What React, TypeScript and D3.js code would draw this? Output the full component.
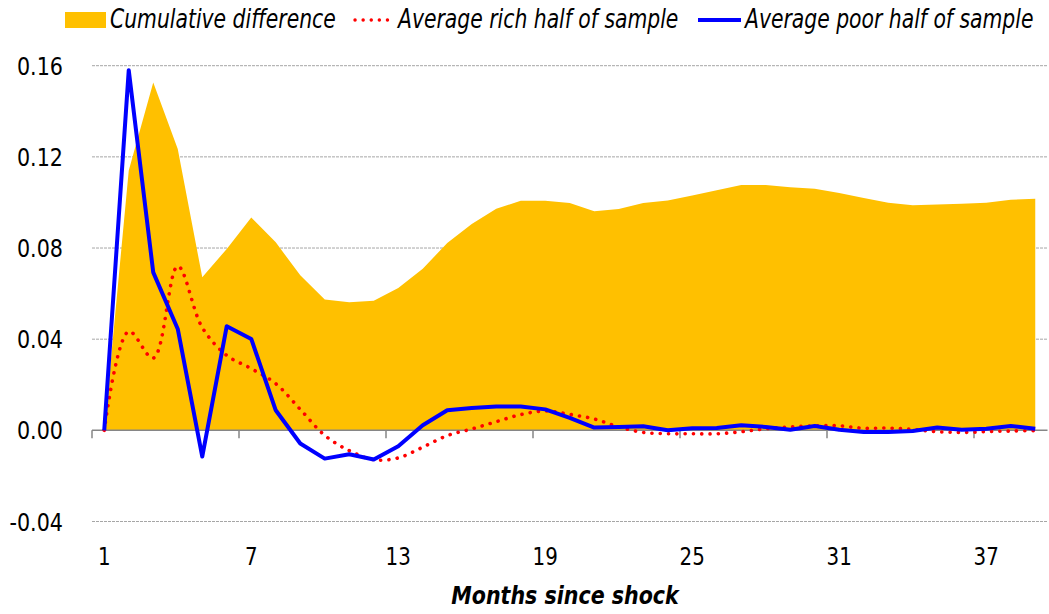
import * as d3 from "d3";
import React from "react";

// months since shock (categories)
const months = d3.range(1, 40);
const tickMonths = [1, 7, 13, 19, 25, 31, 37];
const yTicks = [-0.04, 0, 0.04, 0.08, 0.12, 0.16];

const cumulative = [
  0, 0.114, 0.1526, 0.1234, 0.0672, 0.0796, 0.0934, 0.0825, 0.068, 0.0574,
  0.0562, 0.0569, 0.0625, 0.0709, 0.0822, 0.0905, 0.0972, 0.1007, 0.1007, 0.0997,
  0.0961, 0.0971, 0.0997, 0.1009, 0.1031, 0.1053, 0.1076, 0.1077, 0.1067, 0.106,
  0.1041, 0.102, 0.0999, 0.0988, 0.0991, 0.0994, 0.0999, 0.1012, 0.1016,
];
const rich = [
  0, 0.0434, 0.0317, 0.072, 0.0451, 0.0329, 0.0271, 0.0205, 0.0092, -0.0022,
  -0.0089, -0.0129, -0.0121, -0.0074, -0.0023, 0.0006, 0.0038, 0.0069, 0.0085, 0.007,
  0.005, 0.0015, -0.0009, -0.0015, -0.0015, -0.0015, -0.0006, 0.0007, 0.0015, 0.002,
  0.002, 0.0009, 0.001, 0.0004, -0.0006, -0.0009, -0.0006, -0.0003, -0.0001,
];
const poor = [
  0, 0.158, 0.0693, 0.0445, -0.0115, 0.0457, 0.0401, 0.0088, -0.0058, -0.0124,
  -0.0105, -0.0128, -0.007, 0.0022, 0.0088, 0.0098, 0.0105, 0.0105, 0.0092, 0.0055,
  0.0012, 0.0015, 0.0018, 0, 0.0009, 0.001, 0.0022, 0.0015, 0.0003, 0.0019,
  0.0003, -0.0007, -0.0007, -0.0003, 0.0012, 0.0003, 0.0007, 0.0019, 0.0007,
];

const font = "'DejaVu Sans Condensed', 'DejaVu Sans', sans-serif";

// condensed text: squeeze horizontally around its anchor point
const Txt = ({ x, y, sx = 0.9, children, ...rest }: any) => (
  <text transform={`translate(${x},${y}) scale(${sx},1)`} fontFamily={font} fill="#000" {...rest}>
    {children}
  </text>
);

const fmt = (t: number) => d3.format(".2f")(t).replace("\u2212", "-");

const App = () => {
  const width = 1049;
  const height = 614;

  const x = d3.scaleBand<number>().domain(months).range([92, 1047.5]).paddingInner(0).paddingOuter(0);
  const cx = (m: number) => (x(m) as number) + x.bandwidth() / 2;
  const y = d3.scaleLinear().domain([-0.04, 0.16]).range([521.5, 65.7]);

  const area = d3
    .area<number>()
    .x((_, i) => cx(months[i]))
    .y0(y(0))
    .y1((d) => y(d));

  const poorLine = d3
    .line<number>()
    .x((_, i) => cx(months[i]))
    .y((d) => y(d));

  const richLine = d3
    .line<number>()
    .curve(d3.curveCatmullRom)
    .x((_, i) => cx(months[i]))
    .y((d) => y(d));

  const [x0, x1] = x.range();
  // tick marks sit on category boundaries, every 6 months
  const boundaryTicks = tickMonths.map((m) => x(m) as number);

  return (
    <svg
      width={width}
      height={height}
      style={{ position: "absolute", left: 0, top: 0, display: "block" }}
    >
      <rect width={width} height={height} fill="#ffffff" />

      {/* gridlines */}
      {yTicks
        .filter((t) => t !== 0)
        .map((t) => (
          <line
            key={t}
            x1={x0}
            x2={x1}
            y1={y(t)}
            y2={y(t)}
            stroke="#a6a6a6"
            strokeWidth={1}
            strokeDasharray="3 1"
          />
        ))}

      <path d={area(cumulative) ?? ""} fill="#FFC000" />

      {/* zero axis */}
      <line x1={x0} x2={x1} y1={y(0)} y2={y(0)} stroke="#868686" strokeWidth={1.5} />
      {boundaryTicks.map((bx) => (
        <line key={bx} x1={bx} x2={bx} y1={y(0)} y2={y(0) + 8} stroke="#868686" strokeWidth={1.5} />
      ))}

      <path
        d={richLine(rich) ?? ""}
        fill="none"
        stroke="#FF0000"
        strokeWidth={3.6}
        strokeLinecap="round"
        strokeDasharray="0.1 8.2"
      />
      <path d={poorLine(poor) ?? ""} fill="none" stroke="#0000FF" strokeWidth={4} strokeLinejoin="round" />

      {/* y tick labels */}
      {yTicks.map((t) => (
        <Txt key={t} x={63} y={y(t) + 9} sx={0.92} textAnchor="end" fontSize={25}>
          {fmt(t)}
        </Txt>
      ))}

      {/* x tick labels */}
      {tickMonths.map((m) => (
        <Txt key={m} x={cx(m)} y={565} sx={0.92} textAnchor="middle" fontSize={24}>
          {m}
        </Txt>
      ))}

      <Txt x={565} y={604} sx={0.915} textAnchor="middle" fontSize={25} fontWeight="bold" fontStyle="italic">
        Months since shock
      </Txt>

      {/* legend */}
      <rect x={65} y={12} width={41} height={16} fill="#FFC000" />
      <Txt x={110} y={28} sx={0.87} fontSize={26} fontStyle="italic">
        Cumulative difference
      </Txt>
      <line
        x1={355}
        x2={393}
        y1={20}
        y2={20}
        stroke="#FF0000"
        strokeWidth={3.4}
        strokeLinecap="round"
        strokeDasharray="0.1 8"
      />
      <Txt x={398} y={28} sx={0.87} fontSize={26} fontStyle="italic">
        Average rich half of sample
      </Txt>
      <line x1={698} x2={741} y1={20} y2={20} stroke="#0000FF" strokeWidth={4} />
      <Txt x={745} y={28} sx={0.87} fontSize={26} fontStyle="italic">
        Average poor half of sample
      </Txt>
    </svg>
  );
};

export default App;
